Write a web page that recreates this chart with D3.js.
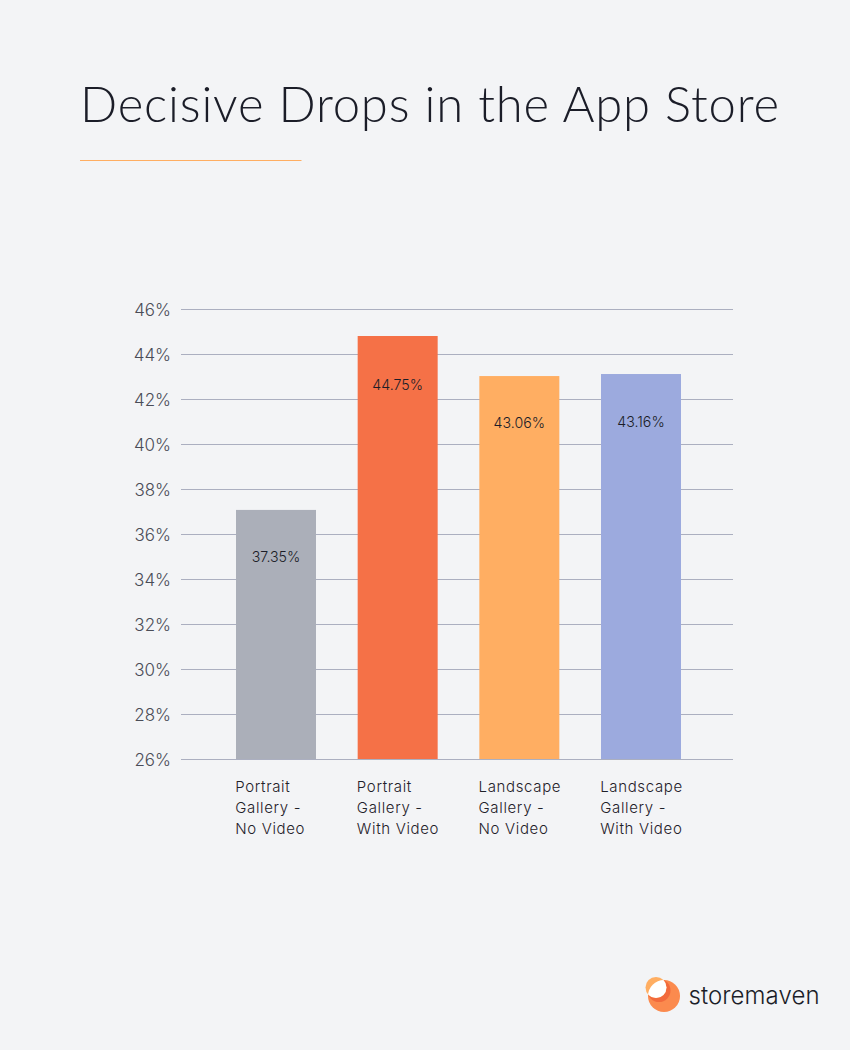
<!DOCTYPE html>
<html>
<head>
	<title>Decisive Drops in the App Store</title>
	<style type="text/css">
		html, body {
			margin: 0;
			padding: 0;
			background: #f3f4f6;
		}
		svg {
			display: block;
		}
		text {
			font-family: "Inter", sans-serif;
		}
		.domain {
			display: none;
		}
	</style>
</head>
<body>
<section></section>
<script src="https://d3js.org/d3.v7.min.js"></script>
<script>

var width = 850;
var height = 1050;

// top is where the bar is actually drawn, label is what the chart prints on it
var data = [
	{ lines: ['Portrait', 'Gallery -', 'No Video'], top: 37.07, label: '37.35%', labelGap: 52, color: '#abafb9' },
	{ lines: ['Portrait', 'Gallery -', 'With Video'], top: 44.8, label: '44.75%', labelGap: 54, color: '#f57147' },
	{ lines: ['Landscape', 'Gallery -', 'No Video'], top: 43.02, label: '43.06%', labelGap: 52, color: '#ffae62' },
	{ lines: ['Landscape', 'Gallery -', 'With Video'], top: 43.11, label: '43.16%', labelGap: 53, color: '#9caade' }
];

var svg = d3.select('section').append('svg')
	.attr('width', width)
	.attr('height', height);

var y = d3.scaleLinear().domain([26, 46]).range([759, 309]);

var x = d3.scaleBand()
	.domain(data.map(function(d, i) { return i; }))
	.range([215.2, 701.8])
	.paddingInner(0.3425)
	.paddingOuter(0.171);

// Title
svg.append('text')
	.attr('x', 80)
	.attr('y', 122)
	.attr('font-size', 49)
	.attr('font-weight', 300)
	.style('font-family', 'Lato, sans-serif')
	.attr('fill', '#1b1d28')
	.attr('textLength', 699)
	.attr('lengthAdjust', 'spacing')
	.text('Decisive Drops in the App Store');

svg.append('line')
	.attr('x1', 80)
	.attr('x2', 301.5)
	.attr('y1', 160.5)
	.attr('y2', 160.5)
	.attr('stroke', '#ffae62')
	.attr('stroke-width', 1);

// Gridlines and tick labels
var axis = svg.append('g')
	.attr('transform', 'translate(181,0)')
	.call(d3.axisLeft(y)
		.tickValues(d3.range(26, 47, 2))
		.tickSize(-552)
		.tickPadding(10)
		.tickFormat(function(d) { return d + '%'; }));

axis.selectAll('.tick line')
	.attr('stroke', '#abafc0')
	.attr('stroke-width', 1);

axis.selectAll('.tick text')
	.attr('y', 1.5)
	.attr('font-size', 17)
	.attr('font-family', 'Inter, sans-serif')
	.attr('font-weight', 300)
	.attr('fill', '#4a4c57');

// Bars
svg.append('g')
	.selectAll('rect')
	.data(data)
	.join('rect')
		.attr('x', function(d, i) { return x(i); })
		.attr('y', function(d) { return y(d.top); })
		.attr('width', x.bandwidth())
		.attr('height', function(d) { return y(26) - y(d.top); })
		.attr('fill', function(d) { return d.color; });

// Value labels
svg.append('g')
	.selectAll('text')
	.data(data)
	.join('text')
		.attr('x', function(d, i) { return x(i) + x.bandwidth() / 2; })
		.attr('y', function(d) { return y(d.top) + d.labelGap; })
		.attr('text-anchor', 'middle')
		.attr('font-size', 14.2)
		.attr('font-weight', 300)
		.attr('fill', '#1b1d28')
		.text(function(d) { return d.label; });

// Category labels
var cat = svg.append('g')
	.selectAll('text')
	.data(data)
	.join('text')
		.attr('font-size', 15)
		.attr('font-weight', 300)
		.attr('letter-spacing', 0.65)
		.attr('fill', '#1f2129');

cat.selectAll('tspan')
	.data(function(d, i) { return d.lines.map(function(l) { return { text: l, i: i }; }); })
	.join('tspan')
		.attr('x', function(d) { return x(d.i) - 0.8; })
		.attr('y', function(d, j) { return 792 + j * 21; })
		.text(function(d) { return d.text; });

// Logo: the white lens is where the two circles overlap
var logo = svg.append('g');
var big = { cx: 664, cy: 996, r: 16 };
var small = { cx: 656, cy: 987.5, r: 10.5 };

logo.append('clipPath').attr('id', 'logo-clip')
	.append('circle').attr('cx', big.cx).attr('cy', big.cy).attr('r', big.r);
logo.append('circle').attr('cx', big.cx).attr('cy', big.cy).attr('r', big.r).attr('fill', '#fb8a4e');
logo.append('circle').attr('cx', small.cx + 3).attr('cy', small.cy + 3).attr('r', small.r + 1)
	.attr('clip-path', 'url(#logo-clip)').attr('fill', '#f26a3c');
logo.append('circle').attr('cx', small.cx).attr('cy', small.cy).attr('r', small.r).attr('fill', '#ffae62');
logo.append('circle').attr('cx', small.cx).attr('cy', small.cy).attr('r', small.r)
	.attr('clip-path', 'url(#logo-clip)').attr('fill', '#ffffff');

svg.append('text')
	.attr('x', 688.5)
	.attr('y', 1004)
	.attr('font-size', 24)
	.attr('font-weight', 350)
	.attr('fill', '#1b1d28')
	.attr('textLength', 131)
	.text('storemaven');

</script>
</body>
</html>
